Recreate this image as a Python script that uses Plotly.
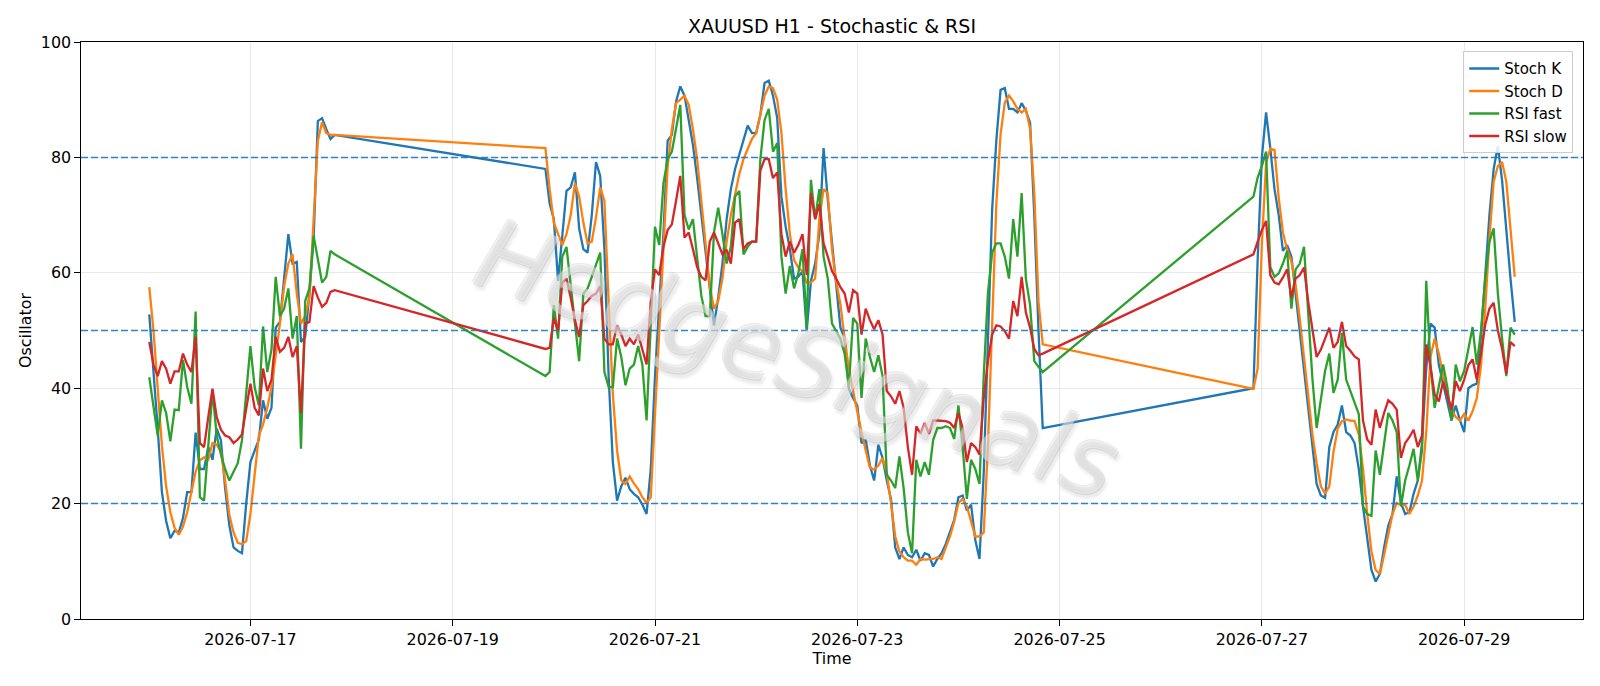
import pandas as pd
import plotly.graph_objects as go

# ---- segment start times (hourly bars) ----
seg_a_start = "2026-07-16 00:00"
seg_b_start = "2026-07-19 22:00"
seg_c_start = "2026-07-26 22:00"

# ---- Stoch K ----
stoch_k_a = [52.8, 43.4, 33, 22, 17, 14, 15.3, 15, 17.5, 22, 22, 32.3, 26, 26, 29.8, 27.6, 33, 31, 22.7, 16.2,
             12.4, 11.8, 11.4, 20, 27.2, 29.2, 31.1, 37.9, 34.7, 36.6, 50.5, 51.5, 59, 66.7, 61.6, 61.9, 48, 48.9,
             56.4, 66, 86.3, 86.8, 84.9, 83.2, 83.9]
stoch_k_b = [78, 72, 69.3, 58.6, 66, 74.2, 74.8, 77.4, 67.7, 64.1, 63.5, 70, 79.2, 76.8, 64.1, 42, 27.2, 20.5,
             23, 24.5, 22.5, 21.7, 21.1, 19.8, 18.2, 26, 42.1, 53.8, 66.7, 82.9, 83.9, 89.7, 92.3, 90.7, 86.1,
             82.2, 76.4, 70, 63.5, 56.4, 50.9, 55.7, 61.6, 69.3, 74.5, 78, 80.5, 83.2, 85.5, 84.2, 84.2, 87.4,
             92.9, 93.3, 90.7, 86.8, 73.2, 68, 64.1, 59, 59.3, 60.3, 49.9, 58.6, 61.6, 66.7, 81.6, 72.6, 65.4,
             57.7, 50.5, 48.6, 39.9, 38.3, 37, 30.5, 31.1, 26.6, 24, 30.2, 27.9, 24, 20.8, 12.4, 10.4, 12.4,
             11.1, 10.7, 12, 10.1, 11.4, 11.1, 9.1, 10.4, 11.4, 13, 15.3, 17.2, 21.1, 21.4, 18.8, 19.8, 13.7,
             10.4, 25.3, 50, 71, 83, 91.7, 92, 88.4, 88.4, 87.8, 89.4, 88.1, 86, 70, 50, 33.1]
stoch_k_c = [40, 62.2, 80, 87.8, 81.6, 74.5, 70, 63.8, 64.8, 62.8, 56.4, 49.9, 43.4, 37, 30.5, 23.4, 21.4, 21,
             29.8, 32.4, 33.7, 37, 32.4, 31.8, 30.5, 26, 19.5, 14.3, 8.5, 6.5, 7.8, 12.4, 16.2, 18.2, 24.7, 20.1,
             18.2, 18.5, 21.7, 24, 30.5, 43.4, 51.2, 50.5, 44, 40.8, 37.6, 34.4, 37, 34.4, 32.4, 40, 40.5, 40.8,
             49, 60, 70, 78, 82, 76, 67, 59, 51.5]

# ---- Stoch D ----
stoch_d_a = [57.5, 50, 40, 30, 23, 18.5, 15.8, 14.6, 16, 18.5, 22, 25.5, 27.5, 28, 27.6, 30.5, 30.2, 29, 24, 18,
             15, 13.2, 13, 13.5, 18.2, 25.3, 31.8, 33.7, 36.6, 40.2, 45.4, 51.2, 57.7, 61.6, 63.2, 56.4, 51.2,
             52.5, 55.7, 70, 82.9, 86.1, 84.2, 83.9, 83.9]
stoch_d_b = [81.6, 74.5, 68.7, 66.7, 64.8, 66.7, 70, 75.5, 73.2, 68.7, 65.1, 65.4, 69.6, 74.8, 72.5, 55, 38.9,
             29.2, 24, 23.4, 24.7, 23.5, 22.5, 21.1, 20.1, 21.1, 35.7, 48.6, 64.1, 78.4, 84.9, 89.4, 90, 90.7,
             89.1, 84.9, 79.7, 72.6, 65.4, 57.7, 53.8, 55.1, 59, 65.4, 70, 73.5, 77.1, 79.7, 81.6, 83.2, 84.2,
             87.4, 90.7, 92.3, 92, 90, 84.2, 74.5, 66.7, 62.2, 60.9, 60.3, 58.3, 58.3, 59, 69.3, 74.5, 73.8, 64,
             58.5, 54.5, 48.6, 43.4, 39.5, 35.7, 32.4, 29.2, 26.2, 25.9, 26.6, 27.9, 25.3, 20.1, 14.3, 11.7,
             10.7, 10.1, 10.1, 9.4, 10.4, 10.3, 10.3, 10.4, 10.7, 10.4, 12.4, 14.3, 16.9, 20.1, 20.8, 19.5, 16.9,
             14.3, 14.3, 15, 30, 52, 72, 84, 89.5, 90.7, 89.7, 88.4, 87.8, 88.4, 84.9, 73.8, 55, 47.6]
stoch_d_c = [39.9, 43.4, 65, 79, 81.5, 81.3, 73, 67, 64, 62, 58, 52, 45, 38, 32, 27, 23, 21.7, 23, 29, 33, 34.3,
             34.6, 34.4, 34.3, 32, 26, 18.2, 11.7, 8.5, 7.8, 11.1, 15, 18.2, 20.1, 19.8, 19.8, 18.2, 19.5, 21.4,
             24, 32.4, 45.4, 48.6, 46, 42.1, 38.9, 36.3, 35, 34.4, 35.5, 34.4, 36, 38.3, 44, 53.8, 66, 75.8,
             78.5, 79.2, 75.8, 68, 59.3]

# ---- RSI fast ----
rsi_fast_a = [41.9, 37, 31.8, 37.9, 35.7, 30.8, 36.3, 36.2, 44.9, 40.2, 37.3, 53.3, 21.1, 20.5, 30.5, 39.5, 31.8,
              28.5, 26, 24, 25.5, 27, 31, 38.5, 47.3, 40.2, 37, 50.7, 42.8, 46.7, 59.3, 52.5, 53.8, 57.3, 48.6,
              52.5, 29.5, 55.1, 57.3, 66.4, 62.2, 58.3, 59.3, 63.8, 63.2]
rsi_fast_b = [42.1, 42.8, 54.4, 48.6, 62.8, 64.5, 57.7, 50.5, 44.7, 56.4, 57.3, 59.3, 61.6, 63.5, 42.8, 40.2,
              40.2, 48.6, 45.4, 40.5, 43.4, 44.1, 47.3, 44.1, 34.4, 52, 68, 64.8, 75.5, 79.7, 81, 85, 89.1, 70,
              67.5, 69.3, 63, 56, 52.5, 52.5, 67, 71.3, 66.7, 61.6, 64.5, 73.2, 74.2, 63.2, 64.5, 65.4, 65.4,
              79.7, 86.5, 88.4, 81, 82.5, 62.8, 56.4, 61.2, 57.3, 59.9, 64.1, 50.5, 76.1, 69.3, 74.5, 62.8, 59,
              51.2, 50, 48.6, 46, 40.2, 52.2, 51.2, 38.3, 48.6, 45.4, 42.8, 45.7, 42.1, 25, 24, 22.7, 28.2, 22.7,
              15, 11.4, 27.6, 24.7, 27.2, 25, 31, 33.1, 33.1, 33.4, 33.1, 31.2, 37, 29.8, 20.8, 27.6, 26, 23.4,
              42.1, 56.4, 63.5, 65.1, 65.1, 62.8, 59, 69.3, 62.8, 73.8, 59, 54.4, 44.7, 43.7, 42.8]
rsi_fast_c = [73.2, 76.5, 78.5, 81, 61, 59.3, 59.9, 61.6, 63.8, 53.8, 60.6, 61.6, 64.5, 53.8, 41.6, 33.1, 38.3,
              43, 46, 39.2, 41.5, 49.6, 41.5, 39.5, 37.5, 35.5, 19.5, 18.2, 17.9, 29.2, 25, 30.5, 35.7, 34.4,
              32.4, 19.5, 24, 26.6, 29.5, 24, 29.2, 58.6, 44.1, 36.6, 40.2, 44.1, 40.2, 34.4, 44.1, 41.2, 43, 47,
              50.6, 44.1, 50, 59, 65.4, 67.7, 56.4, 48.6, 42.1, 50.5, 49.3]

# ---- RSI slow ----
rsi_slow_a = [48, 44.1, 42.1, 44.7, 43.4, 40.8, 42.9, 42.9, 46, 44.1, 42.8, 48.9, 30.5, 29.8, 35, 39.9, 35, 32.8,
              31.8, 31.5, 30.5, 31.1, 32, 36.3, 40.8, 36.6, 35.3, 43.4, 39.5, 41.5, 48.9, 46.3, 47, 48.9, 45.4,
              47.3, 35.7, 51.2, 51.5, 57.7, 55.7, 54.1, 54.8, 56.7, 57]
rsi_slow_b = [46.8, 47, 52.2, 49.9, 58.3, 59, 55.7, 51.8, 48.9, 54.4, 55.1, 56, 56.4, 57.7, 48.6, 47.6, 47.6,
              50.9, 49.3, 47.3, 48.6, 47.6, 49.3, 46.7, 44.1, 55, 60.6, 59.6, 64.5, 67.4, 68.4, 72.5, 76.8, 66.1,
              67, 64.1, 61, 59.3, 58.7, 65.4, 67, 65.1, 63.2, 64, 61.6, 68.7, 69.3, 64.1, 65.1, 65.4, 65.4, 77.7,
              79.7, 79.7, 76.4, 77.4, 66.7, 62.8, 65.4, 63.5, 64.8, 66.7, 59.6, 73.8, 69.3, 71.9, 65.1, 62.8,
              60.3, 59, 57.5, 56.4, 53.1, 57, 56.4, 49.3, 53.8, 51.8, 50.2, 51.8, 49.3, 39.5, 38.6, 37.3, 39.5,
              36.6, 29.8, 25, 33.4, 32.1, 34, 32.1, 34.4, 34.4, 34.4, 34.3, 34, 33.1, 35.7, 33.1, 27.2, 30.5,
              29.8, 28.5, 38.3, 44.7, 49.3, 50.9, 50.7, 49.9, 48.6, 55.1, 52.5, 59.3, 53.1, 50.5, 46.8, 45.7, 46]
rsi_slow_c = [63.2, 65.4, 67.4, 69, 59.6, 58.3, 58, 59.2, 60.6, 55.7, 59, 59.6, 60.9, 55, 49.9, 45.4, 46.7, 48.6,
              50.5, 47, 48, 51.5, 47.3, 46.5, 45.5, 45, 34.4, 31.1, 30.2, 36.3, 33.1, 35.7, 37.9, 37.3, 36.3,
              27.9, 30.5, 31.5, 32.8, 29.8, 31.8, 47.6, 43.8, 38.9, 37.7, 41.2, 38.9, 36.3, 41.2, 39.5, 41.5, 44,
              45, 41.5, 46, 51, 53.8, 54.8, 50, 46.8, 42.5, 48, 47.3]

series_names = ["Stoch K", "Stoch D", "RSI fast", "RSI slow"]
series_colors = ["#1f77b4", "#ff7f0e", "#2ca02c", "#d62728"]
levels = [80, 50, 20]
title_text = "XAUUSD H1 - Stochastic & RSI"
watermark_text = "HedgeSignals"
tick_dates = ["2026-07-17", "2026-07-19", "2026-07-21", "2026-07-23", "2026-07-25", "2026-07-27", "2026-07-29"]

time_index = (list(pd.date_range(seg_a_start, periods=len(stoch_k_a), freq="h"))
              + list(pd.date_range(seg_b_start, periods=len(stoch_k_b), freq="h"))
              + list(pd.date_range(seg_c_start, periods=len(stoch_k_c), freq="h")))

all_series = [stoch_k_a + stoch_k_b + stoch_k_c,
              stoch_d_a + stoch_d_b + stoch_d_c,
              rsi_fast_a + rsi_fast_b + rsi_fast_c,
              rsi_slow_a + rsi_slow_b + rsi_slow_c]

fig = go.Figure()
for name, color, vals in zip(series_names, series_colors, all_series):
    fig.add_trace(go.Scatter(x=time_index, y=vals, mode="lines", name=name,
                             line=dict(color=color, width=2.3)))

for lv in levels:
    fig.add_shape(type="line", xref="paper", x0=0, x1=1, yref="y", y0=lv, y1=lv,
                  line=dict(color="rgba(31,119,180,0.9)", width=1.5, dash="7px,3px"), layer="above")

# watermark
fig.add_annotation(text=watermark_text, xref="paper", yref="paper", x=0.477, y=0.45,
                   showarrow=False, textangle=19,
                   font=dict(family="DejaVu Sans", size=98, color="rgba(255,255,255,0.4)",
                             style="italic",
                             shadow="1px 1px 0px rgba(150,150,150,0.6), -1px -1px 0px rgba(170,170,170,0.6), "
                                    "4px 4px 3px rgba(110,110,110,0.35)"))

font_family = "DejaVu Sans, Arial, sans-serif"
fig.update_layout(
    width=1600, height=686,
    margin=dict(l=81, r=17, t=42, b=67),
    paper_bgcolor="white", plot_bgcolor="white",
    font=dict(family=font_family, size=15.9, color="black"),
    title=dict(text=title_text, x=0.52, xanchor="center", y=0.962, yanchor="middle",
               font=dict(size=19, family=font_family)),
    showlegend=True,
    legend=dict(x=0.9935, xanchor="right", y=0.984, yanchor="top",
                bgcolor="rgba(255,255,255,0.85)", bordercolor="#cccccc", borderwidth=1,
                font=dict(size=15, family=font_family)),
    xaxis=dict(type="date", range=["2026-07-15 07:48", "2026-07-30 04:12"],
               tickmode="array", tickvals=tick_dates, ticktext=tick_dates,
               showgrid=True, gridcolor="#e8e8e8", gridwidth=1,
               showline=True, linecolor="black", linewidth=1.3, mirror=True,
               ticks="outside", ticklen=5.5, tickcolor="black",
               title=dict(text="Time", font=dict(size=15.9), standoff=3), zeroline=False),
    yaxis=dict(range=[0, 100], tickvals=[0, 20, 40, 60, 80, 100],
               showgrid=True, gridcolor="#e8e8e8", gridwidth=1,
               showline=True, linecolor="black", linewidth=1.3, mirror=True,
               ticks="outside", ticklen=5.5, tickcolor="black",
               title=dict(text="Oscillator", font=dict(size=15.9), standoff=5), zeroline=False),
)

fig.write_html("out.html")
